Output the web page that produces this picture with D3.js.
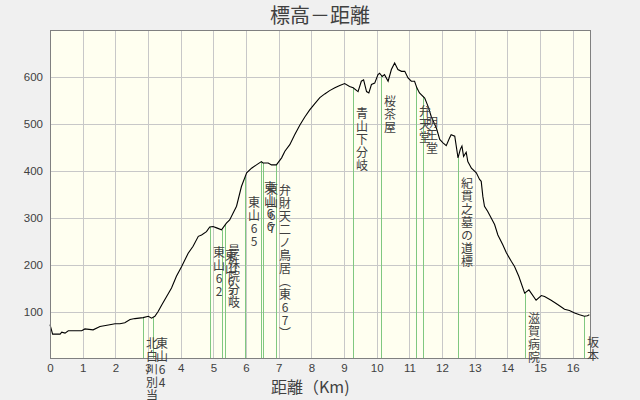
<!DOCTYPE html>
<html>
<head>
<meta charset="utf-8">
<script src="https://cdn.jsdelivr.net/npm/d3@7"></script>
<style>
body { margin: 0; background: #f0f0f0; }
text { font-family: "Noto Sans CJK JP", sans-serif; fill: #404040; }
.tick text { font-family: "Liberation Sans", sans-serif; font-size: 11.5px; }
</style>
</head>
<body>
<svg id="chart" width="640" height="400"></svg>
<script>
// distance (km) and elevation (m) along the route
let dist = [0.00, 0.08, 0.31, 0.36, 0.46, 0.56, 0.97, 1.07, 1.32, 1.53, 1.83, 1.99, 2.14, 2.29, 2.45, 2.60,
    2.85, 3.01, 3.11, 3.21, 3.31, 3.42, 3.57, 3.72, 3.87, 4.03, 4.23, 4.38, 4.54, 4.64, 4.79, 4.89,
    4.99, 5.10, 5.25, 5.40, 5.50, 5.61, 5.71, 5.86, 6.02, 6.17, 6.32, 6.47, 6.52, 6.68, 6.78, 6.93,
    7.09, 7.19, 7.34, 7.49, 7.65, 7.80, 7.95, 8.10, 8.26, 8.41, 8.56, 8.72, 8.87, 9.02, 9.17, 9.28,
    9.43, 9.53, 9.60, 9.69, 9.76, 9.84, 9.94, 10.04, 10.09, 10.17, 10.24, 10.35, 10.45, 10.55, 10.65,
    10.76, 10.86, 10.96, 11.06, 11.16, 11.23, 11.31, 11.47, 11.57, 11.67, 11.83, 11.93, 12.03, 12.13,
    12.23, 12.28, 12.39, 12.49, 12.56, 12.61, 12.66, 12.74, 12.79, 12.90, 13.05, 13.15, 13.20, 13.25,
    13.30, 13.40, 13.61, 13.71, 13.86, 13.97, 14.12, 14.22, 14.35, 14.53, 14.66, 14.88, 15.04, 15.14,
    15.34, 15.54, 15.75, 15.90, 16.06, 16.21, 16.36, 16.45, 16.51]
let elev = [73, 53, 53, 57, 55, 60, 60, 64, 62, 69, 73, 75, 75, 77, 84, 86,
    88, 91, 87, 91, 101, 115, 133, 151, 176, 197, 225, 240, 261, 264, 271, 281,
    282, 279, 275, 289, 296, 311, 325, 367, 396, 406, 413, 420, 417, 417, 413, 413,
    428, 442, 456, 477, 498, 515, 530, 543, 556, 564, 571, 577, 582, 586, 580, 577,
    569, 591, 594, 569, 566, 584, 587, 605, 608, 601, 605, 591, 616, 630, 616,
    612, 612, 598, 591, 591, 577, 566, 555, 538, 516, 491, 467, 460, 454,
    470, 477, 474, 428, 446, 453, 431, 440, 420, 406, 396, 382, 378, 346,
    325, 314, 286, 264, 243, 226, 208, 197, 176, 140, 147, 125, 135, 133,
    125, 116, 106, 103, 98, 94, 91, 92, 94]

// waypoints
let wpDist = [2.85, 3.16, 4.90, 5.25, 5.37, 5.98, 6.47, 6.52, 6.93, 9.27, 10.14, 11.21, 11.42, 12.49, 14.54, 16.35]
let wpName = ["北白川別当", "東山64", "東山62", "東山63", "曼殊院分岐", "東山65", "東山66", "東山67",
    "弁財天二ノ鳥居（東67）", "青山下分岐", "桜茶屋", "弁天堂", "明王堂", "紀貫之墓の道標", "滋賀病院", "坂本"]

let xTicks = d3.range(0, 17)
let yTicks = [100, 200, 300, 400, 500, 600]

let svg = d3.select("#chart")

let x = d3.scaleLinear().domain([0, 16.53]).range([50, 590])
let y = d3.scaleLinear().domain([0, 700]).range([359, 30])

svg.append("rect")
    .attr("x", 50).attr("y", 30)
    .attr("width", 540).attr("height", 329)
    .attr("fill", "#fffff0")

// grid + tick labels
let xAxis = d3.axisBottom(x)
    .tickValues(xTicks)
    .tickSizeInner(-(359 - 30))
    .tickSizeOuter(0)
    .tickPadding(5)
let gx = svg.append("g")
    .attr("transform", "translate(0,359)")
    .call(xAxis)
gx.select(".domain").remove()
gx.selectAll("line").attr("stroke", "#c8c8c8").attr("shape-rendering", "crispEdges")

let yAxis = d3.axisLeft(y)
    .tickValues(yTicks)
    .tickSizeInner(-(590 - 50))
    .tickSizeOuter(0)
    .tickPadding(7)
let gy = svg.append("g")
    .attr("transform", "translate(50,0)")
    .call(yAxis)
gy.select(".domain").remove()
gy.selectAll("line").attr("stroke", "#c8c8c8").attr("shape-rendering", "crispEdges")

let profile = dist.map((d, i) => [d, elev[i]])
let bisect = d3.bisector(d => d[0]).left
function elevAt(k) {
    let i = bisect(profile, k)
    if (i <= 0) return profile[0][1]
    if (i >= profile.length) return profile[profile.length - 1][1]
    let a = profile[i - 1], b = profile[i]
    return a[1] + (b[1] - a[1]) * (k - a[0]) / (b[0] - a[0])
}

// waypoint lines
svg.append("g")
    .selectAll("line")
    .data(wpDist)
    .join("line")
    .attr("x1", d => Math.round(x(d)) + 0.5)
    .attr("x2", d => Math.round(x(d)) + 0.5)
    .attr("y1", y(0))
    .attr("y2", d => y(elevAt(d)))
    .attr("stroke", "#80c880")

// profile
svg.append("path")
    .datum(profile)
    .attr("fill", "none")
    .attr("stroke", "#000")
    .attr("stroke-width", 1.1)
    .attr("d", d3.line().x(d => x(d[0])).y(d => y(d[1])))

// frame
svg.append("rect")
    .attr("x", 50.5).attr("y", 30.5)
    .attr("width", 540).attr("height", 328)
    .attr("fill", "none")
    .attr("stroke", "#808080")

// waypoint names, vertical
svg.append("g")
    .selectAll("text")
    .data(wpDist)
    .join("text")
    .attr("x", d => Math.round(x(d)) + 9)
    .attr("y", d => y(elevAt(d)) + 20)
    .attr("writing-mode", "tb")
    .style("text-orientation", "upright")
    .style("letter-spacing", "1px")
    .attr("font-size", 12)
    .text((d, i) => wpName[i])

svg.append("text")
    .attr("x", 320).attr("y", 23)
    .attr("text-anchor", "middle")
    .attr("font-size", 20)
    .text("標高－距離")

svg.append("text")
    .attr("x", 271).attr("y", 393)
    .attr("font-size", 16)
    .text("距離（Km)")
</script>
</body>
</html>
